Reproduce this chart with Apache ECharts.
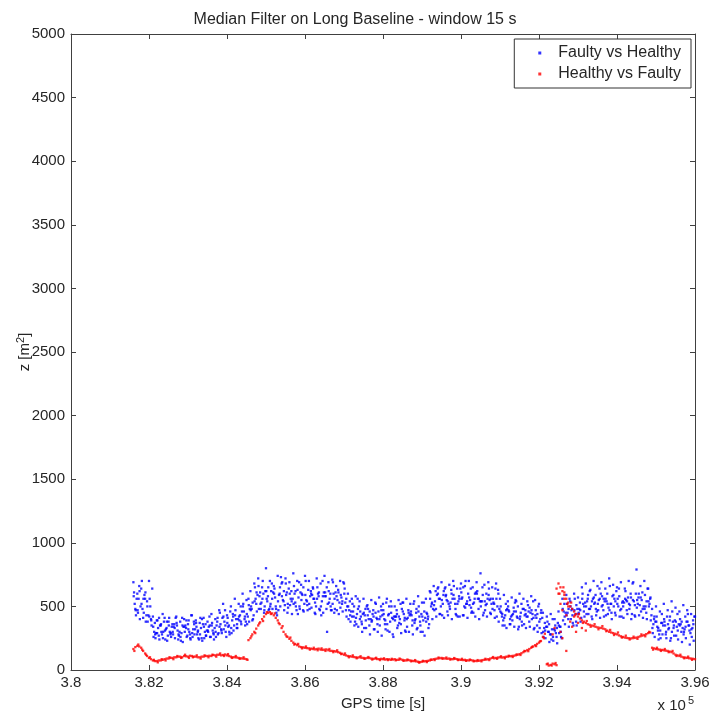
<!DOCTYPE html>
<html>
<head>
<meta charset="utf-8">
<script src="https://cdn.jsdelivr.net/npm/echarts@6/dist/echarts.min.js"></script>
<style>
  html, body { margin: 0; padding: 0; background: #fff; }
  #chart { width: 710px; height: 714px; }
</style>
</head>
<body>
<div id="chart"></div>
<script>
// sample times: one value per 100 s, first sample at 381600 s
var tStart = 381600;
var tStep = 100;
var xTicks = ['3.8', '3.82', '3.84', '3.86', '3.88', '3.9', '3.92', '3.94', '3.96'];

// Faulty vs Healthy (blue), several readings per sample time
var blueA = [
  690, 600, 640, 560, 700, 420, 390, 350, 410, 380,
  360, 420, 380, 400, 360, 430, 390, 370, 410, 380,
  440, 400, 470, 520, 430, 500, 560, 520, 600, 550,
  620, 680, 720, 650, 800, 700, 660, 740, 680, 720,
  690, 760, 700, 670, 740, 700, 650, 720, 680, 740,
  690, 710, 660, 700, 680, 600, 560, 580, 540, 560,
  510, 550, 530, 570, 520, 560, 540, 500, 550, 530,
  560, 520, 540, 580, 530, 560, 620, 660, 640, 690,
  650, 670, 700, 640, 680, 660, 700, 650, 690, 760,
  670, 690, 650, 680, 560, 590, 540, 570, 550, 600,
  560, 540, 580, 550, 520, 450, 420, 440, 400, 460,
  560, 590, 540, 600, 570, 650, 680, 620, 700, 660,
  690, 640, 720, 670, 650, 690, 640, 700, 680, 790,
  660, 700, 640, 480, 500, 460, 520, 470, 540, 490,
  460, 510, 470, 440, 420
];
var blueB = [
  520, 560, 480, 430, 500, 300, 330, 280, 320, 300,
  340, 310, 290, 350, 300, 320, 280, 330, 300, 340,
  310, 350, 360, 380, 340, 390, 400, 430, 460, 420,
  480, 560, 580, 600, 540, 620, 570, 590, 550, 610,
  560, 600, 570, 590, 550, 580, 560, 600, 540, 580,
  560, 600, 550, 570, 530, 470, 460, 440, 420, 430,
  400, 440, 410, 420, 400, 430, 410, 420, 400, 440,
  410, 430, 400, 420, 390, 440, 500, 540, 560, 520,
  550, 530, 560, 540, 570, 520, 550, 530, 560, 540,
  510, 550, 530, 500, 450, 430, 460, 440, 420, 450,
  430, 460, 440, 410, 400, 330, 300, 320, 290, 340,
  460, 450, 470, 440, 480, 520, 540, 500, 530, 550,
  510, 540, 520, 560, 500, 530, 550, 510, 540, 520,
  550, 500, 520, 360, 340, 370, 350, 330, 380, 340,
  360, 320, 350, 330, 310
];
var blueC = [
  430, 400, 450, 380, 350, 250, 240, 300, 230, 260,
  250, 270, 220, 260, 240, 280, 250, 230, 270, 260,
  240, 280, 290, 300, 280, 310, 330, 360, 350, 380,
  400, 460, 480, 500, 470, 480, 450, 500, 470, 490,
  440, 500, 480, 460, 470, 490, 440, 480, 450, 300,
  470, 480, 440, 460, 420, 380, 350, 340, 300, 330,
  280, 320, 300, 270, 320, 300, 260, 330, 290, 310,
  300, 280, 320, 300, 270, 330, 400, 420, 440, 410,
  430, 400, 440, 420, 430, 410, 450, 420, 400, 430,
  420, 440, 410, 380, 350, 330, 360, 340, 320, 350,
  330, 340, 320, 300, 290, 250, 220, 230, 210, 260,
  360, 340, 370, 350, 380, 420, 440, 400, 430, 410,
  420, 440, 400, 430, 420, 410, 440, 400, 420, 430,
  410, 400, 390, 260, 240, 280, 250, 230, 270, 240,
  220, 250, 200, 230, 180
];
var blueD = [
  610, 450, 700, 380, 560, 260, 390, 300, 240, 410,
  280, 350, 230, 300, 390, 260, 340, 410, 250, 300,
  370, 260, 450, 320, 410, 290, 470, 390, 520, 360,
  500, 650, 480, 700, 560, 520, 640, 470, 690, 590,
  510, 660, 440, 600, 700, 480, 560, 650, 430, 610,
  530, 690, 470, 590, 640, 400, 520, 360, 460, 330,
  480, 390, 520, 350, 440, 310, 500, 420, 370, 530,
  340, 460, 390, 500, 300, 450, 610, 470, 650, 430,
  590, 480, 660, 420, 560, 700, 510, 450, 620, 540,
  470, 640, 560, 420, 500, 350, 470, 390, 540, 420,
  360, 510, 400, 470, 330, 260, 380, 240, 350, 290,
  390, 520, 400, 560, 450, 600, 440, 630, 520, 470,
  580, 430, 660, 500, 560, 420, 620, 480, 690, 550,
  460, 590, 500, 290, 420, 250, 380, 320, 460, 270,
  400, 300, 440, 260, 330
];
var blueE = [
  480, 660, 410, 540, 400, 370, 270, 440, 330, 280,
  360, 240, 410, 330, 280, 380, 300, 250, 360, 420,
  290, 380, 320, 470, 350, 440, 330, 500, 400, 560,
  390, 520, 610, 450, 580, 680, 500, 600, 540, 450,
  620, 530, 690, 470, 540, 620, 450, 580, 700, 480,
  600, 450, 630, 520, 470, 540, 420, 560, 380, 480,
  350, 470, 400, 500, 360, 440, 280, 470, 520, 390,
  470, 350, 450, 380, 530, 400, 520, 620, 440, 590,
  460, 630, 520, 580, 430, 520, 640, 560, 480, 650,
  600, 450, 520, 630, 420, 520, 360, 490, 410, 520,
  470, 380, 540, 350, 450, 370, 300, 400, 260, 340,
  520, 400, 480, 380, 530, 460, 560, 420, 590, 640,
  470, 600, 520, 450, 640, 540, 470, 600, 430, 570,
  610, 450, 560, 400, 310, 440, 280, 390, 330, 440,
  300, 420, 350, 390, 270
];
var blueF = [
  560, 500, 590, 430, 640, 290, 350, 380, 270, 340,
  410, 300, 340, 270, 430, 320, 240, 360, 310, 260,
  330, 290, 410, 260, 460, 350, 400, 460, 380, 480,
  430, 590, 530, 620, 480, 610, 430, 730, 510, 640,
  560, 470, 610, 520, 630, 590, 500, 470, 610, 520,
  470, 610, 530, 690, 500, 460, 380, 500, 440, 500,
  400, 320, 460, 430, 530, 380, 420, 350, 480, 300,
  430, 520, 330, 440, 410, 360, 480, 590, 500, 640,
  520, 560, 430, 640, 500, 600, 460, 610, 540, 450,
  560, 520, 640, 480, 390, 480, 420, 530, 340, 480,
  420, 450, 330, 500, 410, 340, 280, 320, 370, 250,
  450, 560, 350, 480, 410, 530, 480, 560, 460, 600,
  540, 490, 580, 620, 470, 530, 570, 440, 600, 510,
  500, 640, 430, 380, 280, 350, 420, 250, 390, 360,
  330, 380, 290, 420, 310
];
var blueG = [
  580, 470, 520, 610, 420, 340, 290, 360, 310, 350,
  300, 370, 260, 340, 320, 290, 370, 280, 340, 310,
  350, 300, 340, 420, 370, 330, 430, 420, 500, 440,
  470, 540, 660, 560, 620, 500, 600, 540, 580, 680,
  600, 520, 630, 550, 590, 520, 640, 560, 500, 580,
  620, 520, 580, 490, 600, 500, 420, 410, 400, 450,
  430, 380, 450, 400, 470, 360, 450, 390, 420, 460,
  400, 440, 370, 460, 420, 380, 560, 510, 600, 550,
  580, 500, 590, 520, 610, 490, 570, 520, 600, 500,
  540, 590, 480, 560, 460, 410, 500, 430, 460, 400,
  480, 420, 470, 430, 380, 300, 340, 280, 310, 350,
  480, 430, 500, 470, 440, 560, 500, 480, 570, 520,
  500, 560, 470, 590, 520, 480, 560, 520, 550, 490,
  570, 480, 540, 330, 380, 310, 400, 360, 300, 380,
  350, 280, 380, 320, 360
];
var blueH = [
  470, 620, 560, 500, 390, 280, 410, 250, 380, 290,
  330, 280, 350, 390, 250, 360, 310, 400, 270, 350,
  280, 410, 310, 350, 300, 420, 360, 380, 420, 510,
  530, 610, 520, 470, 650, 560, 480, 650, 620, 520,
  540, 620, 500, 650, 510, 600, 530, 610, 580, 650,
  500, 560, 610, 540, 560, 430, 500, 480, 360, 390,
  460, 420, 360, 470, 390, 500, 400, 440, 360, 410,
  450, 390, 480, 350, 460, 420, 530, 480, 560, 620,
  540, 600, 480, 560, 650, 540, 490, 600, 560, 590,
  520, 560, 470, 600, 440, 470, 400, 460, 500, 380,
  440, 490, 410, 440, 470, 310, 360, 260, 330, 300,
  420, 480, 430, 510, 470, 500, 590, 540, 480, 560,
  560, 520, 450, 540, 580, 500, 540, 570, 510, 600,
  480, 540, 570, 420, 330, 370, 300, 420, 350, 310,
  380, 340, 310, 360, 260
];

// Healthy vs Faulty (red), three readings per sample time
var redA = [
  165, 190, 175, 130, 95, 75, 70, 75, 85, 90,
  95, 100, 105, 110, 105, 110, 105, 100, 105, 110,
  110, 115, 120, 118, 115, 105, 100, 95, 90, 85,
  250, 300, 350, 400, 440, 455, 430, 390, 330, 280,
  245, 215, 195, 180, 175, 170, 165, 165, 160, 160,
  155, 150, 145, 135, 120, 110, 105, 100, 100, 95,
  95, 90, 90, 85, 85, 85, 80, 85, 80, 80,
  75, 75, 70, 65, 65, 70, 75, 85, 90, 95,
  90, 90, 85, 85, 80, 80, 75, 75, 70, 75,
  80, 85, 95, 95, 100, 100, 105, 110, 115, 125,
  140, 157, 175, 195, 215, 260, 45, 40, 45, 680,
  620, 560, 500, 460, 420, 390, 370, 355, 345, 335,
  330, 320, 300, 290, 280, 265, 255, 250, 250, 255,
  265, 275, 290, 175, 165, 160, 155, 150, 140, 120,
  110, 100, 95, 90, 85
];
var redB = [
  180, 185, 150, 110, 85, 70, 75, 80, 90, 95,
  100, 105, 100, 108, 112, 105, 100, 105, 110, 112,
  118, 120, 115, 122, 110, 100, 98, 92, 88, 235,
  280, 325, 375, 420, 450, 445, 410, 360, 300, 260,
  230, 205, 185, 178, 172, 168, 162, 168, 158, 162,
  150, 148, 140, 128, 115, 108, 102, 98, 96, 92,
  94, 88, 86, 88, 82, 84, 82, 80, 84, 76,
  78, 72, 68, 62, 68, 72, 80, 88, 92, 92,
  88, 86, 88, 82, 78, 76, 78, 72, 72, 78,
  82, 90, 92, 98, 98, 104, 108, 112, 120, 132,
  148, 165, 185, 205, 228, 285, 35, 50, 38, 650,
  590, 530, 480, 440, 405, 380, 360, 350, 340, 332,
  325, 310, 295, 285, 272, 260, 252, 248, 252, 260,
  270, 282, 295, 170, 162, 158, 152, 145, 130, 115,
  105, 98, 92, 88, 82
];
var redC = [
  150, 200, 160, 120, 100, 80, 60, 85, 75, 100,
  85, 110, 95, 120, 95, 100, 115, 90, 115, 100,
  120, 105, 130, 110, 125, 95, 110, 88, 100, 80,
  265, 290, 365, 385, 455, 440, 445, 370, 345, 265,
  255, 200, 205, 170, 185, 160, 175, 155, 170, 150,
  165, 140, 155, 125, 130, 100, 115, 92, 108, 88,
  102, 82, 96, 78, 92, 78, 88, 76, 90, 72,
  82, 68, 78, 58, 72, 62, 82, 78, 98, 88,
  98, 82, 94, 78, 88, 72, 82, 68, 78, 68,
  88, 78, 102, 88, 108, 92, 112, 102, 122, 118,
  150, 148, 182, 188, 225, 250, 50, 35, 55, 600,
  650, 520, 530, 430, 440, 370, 385, 340, 360, 320,
  345, 305, 315, 275, 295, 255, 270, 240, 262, 245,
  280, 265, 300, 160, 175, 150, 165, 140, 150, 110,
  120, 92, 105, 80, 92
];
// scattered red readings just after the jump near 3.925e5 s
var redExtraT = [392350, 392400, 392450, 392500, 392550, 392550, 392600, 392600, 392650, 392650,
                 392700, 392700, 392750, 392800, 392850, 392900, 392950, 393000, 393100, 393200];
var redExtraV = [280, 330, 640, 600, 520, 300, 470, 250, 560, 610,
                 430, 150, 500, 380, 340, 420, 300, 370, 330, 310];

function pairs(vals, offset) {
  var out = [];
  for (var i = 0; i < vals.length; i++) {
    out.push([tStart + i * tStep + offset, vals[i]]);
  }
  return out;
}

var blueData = pairs(blueA, 0).concat(pairs(blueG, 8), pairs(blueD, 17), pairs(blueB, 33),
  pairs(blueE, 50), pairs(blueH, 58), pairs(blueC, 66), pairs(blueF, 83));
var redData = pairs(redA, 0).concat(pairs(redC, 25), pairs(redB, 50));
for (var k = 0; k < redExtraT.length; k++) redData.push([redExtraT[k], redExtraV[k]]);

var font = 'Liberation Sans, Arial, sans-serif';
var axisCol = '#404040';
var txtCol = '#262626';

function xAxisCfg(pos, showLabel) {
  return {
    type: 'value', position: pos, min: 380000, max: 396000, interval: 2000,
    axisLine: { show: true, onZero: false, lineStyle: { color: axisCol, width: 1 } },
    axisTick: { show: true, inside: true, length: 5, lineStyle: { color: axisCol } },
    splitLine: { show: false },
    axisLabel: {
      show: showLabel, margin: 5, color: txtCol, fontSize: 15, fontFamily: font,
      formatter: function (v) { return xTicks[Math.round((v - 380000) / 2000)]; }
    }
  };
}
function yAxisCfg(pos, showLabel) {
  return {
    type: 'value', position: pos, min: 0, max: 5000, interval: 500,
    axisLine: { show: true, onZero: false, lineStyle: { color: axisCol, width: 1 } },
    axisTick: { show: true, inside: true, length: 5, lineStyle: { color: axisCol } },
    splitLine: { show: false },
    axisLabel: {
      show: showLabel, margin: 6, color: txtCol, fontSize: 15, fontFamily: font,
      formatter: function (v) { return String(v); }
    }
  };
}

var chart = echarts.init(document.getElementById('chart'), null, { renderer: 'canvas' });
var xBottom = xAxisCfg('bottom', true);
xBottom.name = 'GPS time [s]';
xBottom.nameLocation = 'middle';
xBottom.nameGap = 26;
xBottom.nameMoveOverlap = false;
xBottom.nameTextStyle = { color: txtCol, fontSize: 15, fontFamily: font };
var yLeft = yAxisCfg('left', true);
yLeft.name = 'z [m{sup|2}]';
yLeft.nameLocation = 'middle';
yLeft.nameGap = 37;
yLeft.nameRotate = 90;
yLeft.nameMoveOverlap = false;
yLeft.nameTextStyle = {
  color: txtCol, fontSize: 15, fontFamily: font,
  rich: { sup: { fontSize: 11, verticalAlign: 'top', padding: [0, 0, 8, 0], fontFamily: font, color: txtCol } }
};

chart.setOption({
  backgroundColor: '#ffffff',
  animation: false,
  title: {
    text: 'Median Filter on Long Baseline - window 15 s',
    left: 'center', top: 7,
    textStyle: { fontSize: 16, fontWeight: 'normal', color: txtCol, fontFamily: font }
  },
  grid: { left: 71, right: 15, top: 34, bottom: 44, outerBoundsMode: 'none' },
  xAxis: [xBottom, xAxisCfg('top', false)],
  yAxis: [yLeft, yAxisCfg('right', false)],
  legend: {
    orient: 'vertical', right: 19, top: 39,
    padding: [6, 10, 6, 24], itemGap: 5,
    itemWidth: 3, itemHeight: 3,
    backgroundColor: '#fff', borderColor: '#333', borderWidth: 1,
    textStyle: { fontSize: 16, color: txtCol, fontFamily: font, padding: [0, 0, 0, 12] },
    data: [
      { name: 'Faulty vs Healthy', icon: 'rect' },
      { name: 'Healthy vs Faulty', icon: 'rect' }
    ]
  },
  graphic: [{
    type: 'text', right: 16, top: 695,
    style: {
      text: 'x 10{s|5}', fill: txtCol, font: '15px ' + font,
      rich: { s: { fontSize: 11, padding: [0, 0, 10, 2], fill: txtCol } }
    }
  }],
  series: [
    {
      name: 'Faulty vs Healthy', type: 'scatter', xAxisIndex: 0, yAxisIndex: 0,
      symbol: 'rect', symbolSize: 2.3, clip: true,
      itemStyle: { color: '#0000ff' },
      data: blueData
    },
    {
      name: 'Healthy vs Faulty', type: 'scatter', xAxisIndex: 0, yAxisIndex: 0,
      symbol: 'rect', symbolSize: 2.3, clip: true,
      itemStyle: { color: '#ff0000' },
      data: redData
    }
  ]
});
</script>
</body>
</html>
